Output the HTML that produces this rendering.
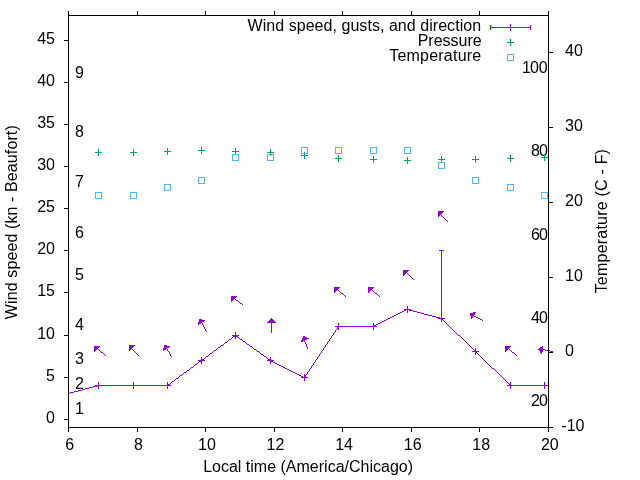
<!DOCTYPE html>
<html><head><meta charset="utf-8"><title>Wind speed, gusts, and direction</title>
<style>html,body{margin:0;padding:0;background:#fff}svg{display:block}</style></head>
<body>
<svg width="640" height="480" viewBox="0 0 640 480">
<rect width="640" height="480" fill="#fff"/>
<defs><clipPath id="pc"><rect x="68.5" y="15.5" width="480" height="412"/></clipPath></defs>
<g stroke="#000" stroke-width="1" fill="none">
<path d="M68.5 427.5V432.0M68.5 15.5V11.0"/>
<path d="M137.5 427.5V432.0M137.5 15.5V11.0"/>
<path d="M205.5 427.5V432.0M205.5 15.5V11.0"/>
<path d="M274.5 427.5V432.0M274.5 15.5V11.0"/>
<path d="M342.5 427.5V432.0M342.5 15.5V11.0"/>
<path d="M411.5 427.5V432.0M411.5 15.5V11.0"/>
<path d="M479.5 427.5V432.0M479.5 15.5V11.0"/>
<path d="M548.5 427.5V432.0M548.5 15.5V11.0"/>
<path d="M68.5 419.5H64.0"/>
<path d="M68.5 377.5H64.0"/>
<path d="M68.5 335.5H64.0"/>
<path d="M68.5 292.5H64.0"/>
<path d="M68.5 250.5H64.0"/>
<path d="M68.5 208.5H64.0"/>
<path d="M68.5 166.5H64.0"/>
<path d="M68.5 124.5H64.0"/>
<path d="M68.5 82.5H64.0"/>
<path d="M68.5 40.5H64.0"/>
<path d="M548.5 427.5H553.0"/>
<path d="M548.5 352.5H553.0"/>
<path d="M548.5 277.5H553.0"/>
<path d="M548.5 202.5H553.0"/>
<path d="M548.5 127.5H553.0"/>
<path d="M548.5 52.5H553.0"/>
</g>
<g font-family="'Liberation Sans', Arial, sans-serif" font-size="16" fill="#000">
<text x="69.8" y="450" text-anchor="middle">6</text>
<text x="138.4" y="450" text-anchor="middle">8</text>
<text x="206.9" y="450" text-anchor="middle">10</text>
<text x="275.5" y="450" text-anchor="middle">12</text>
<text x="344.1" y="450" text-anchor="middle">14</text>
<text x="412.7" y="450" text-anchor="middle">16</text>
<text x="481.2" y="450" text-anchor="middle">18</text>
<text x="549.8" y="450" text-anchor="middle">20</text>
<text x="55.0" y="422.7" text-anchor="end">0</text>
<text x="55.0" y="380.7" text-anchor="end">5</text>
<text x="55.0" y="338.7" text-anchor="end">10</text>
<text x="55.0" y="295.7" text-anchor="end">15</text>
<text x="55.0" y="253.7" text-anchor="end">20</text>
<text x="55.0" y="211.7" text-anchor="end">25</text>
<text x="55.0" y="169.7" text-anchor="end">30</text>
<text x="55.0" y="127.7" text-anchor="end">35</text>
<text x="55.0" y="85.7" text-anchor="end">40</text>
<text x="55.0" y="43.7" text-anchor="end">45</text>
<text x="561.3" y="430.8">-10</text>
<text x="565.0" y="355.8">0</text>
<text x="565.0" y="280.8">10</text>
<text x="565.0" y="205.8">20</text>
<text x="565.0" y="130.8">30</text>
<text x="565.0" y="55.8">40</text>
<text x="75" y="414">1</text>
<text x="75" y="389">2</text>
<text x="75" y="364">3</text>
<text x="75" y="330">4</text>
<text x="75" y="280">5</text>
<text x="75" y="238">6</text>
<text x="75" y="187">7</text>
<text x="75" y="137">8</text>
<text x="75" y="78">9</text>
<text x="531.0 539.0" y="406">20</text>
<text x="531.0 539.0" y="323">40</text>
<text x="531.0 539.0" y="240">60</text>
<text x="531.0 539.0" y="156">80</text>
<text x="522.1 530.1 538.65" y="73">100</text>
<text transform="translate(17 222.2) rotate(-90)" text-anchor="middle" textLength="193.9" lengthAdjust="spacing">Wind speed (kn - Beaufort)</text>
<text transform="translate(607 221.2) rotate(-90)" text-anchor="middle" textLength="144.3" lengthAdjust="spacing">Temperature (C - F)</text>
<text x="308.1" y="472" text-anchor="middle">Local time (America/Chicago)</text>
<text x="481.1" y="30.7" text-anchor="end" textLength="233.6" lengthAdjust="spacing">Wind speed, gusts, and direction</text>
<text x="481.7" y="45.7" text-anchor="end">Pressure</text>
<text x="481.2" y="60.7" text-anchor="end" textLength="92.0" lengthAdjust="spacing">Temperature</text>
</g>
<g stroke="#9400d3" stroke-width="1" fill="none"><path d="M490 27.5H531M490.5 25V30M530.5 25V30M510.5 24V31M507 27.5H514"/></g>
<path d="M507 42.5H514M510.5 39V46" stroke="#009e73" fill="none"/>
<rect x="507.5" y="54.5" width="6" height="6" stroke="#56b4e9" fill="none"/>
<path d="M439 250h5v1h-5zM441 251h1v1h-1zM441 252h1v1h-1zM441 253h1v1h-1zM441 254h1v1h-1zM441 255h1v1h-1zM441 256h1v1h-1zM441 257h1v1h-1zM441 258h1v1h-1zM441 259h1v1h-1zM441 260h1v1h-1zM441 261h1v1h-1zM441 262h1v1h-1zM441 263h1v1h-1zM441 264h1v1h-1zM441 265h1v1h-1zM441 266h1v1h-1zM441 267h1v1h-1zM441 268h1v1h-1zM441 269h1v1h-1zM441 270h1v1h-1zM441 271h1v1h-1zM441 272h1v1h-1zM441 273h1v1h-1zM441 274h1v1h-1zM441 275h1v1h-1zM441 276h1v1h-1zM441 277h1v1h-1zM441 278h1v1h-1zM441 279h1v1h-1zM441 280h1v1h-1zM441 281h1v1h-1zM441 282h1v1h-1zM441 283h1v1h-1zM441 284h1v1h-1zM441 285h1v1h-1zM441 286h1v1h-1zM441 287h1v1h-1zM441 288h1v1h-1zM441 289h1v1h-1zM441 290h1v1h-1zM441 291h1v1h-1zM441 292h1v1h-1zM441 293h1v1h-1zM441 294h1v1h-1zM441 295h1v1h-1zM441 296h1v1h-1zM441 297h1v1h-1zM441 298h1v1h-1zM441 299h1v1h-1zM441 300h1v1h-1zM441 301h1v1h-1zM441 302h1v1h-1zM441 303h1v1h-1zM441 304h1v1h-1zM441 305h1v1h-1zM441 306h1v1h-1zM441 307h1v1h-1zM441 308h1v1h-1zM406 309h3v1h-3zM441 309h1v1h-1zM404 310h2v1h-2zM409 310h4v1h-4zM441 310h1v1h-1zM402 311h2v1h-2zM413 311h4v1h-4zM441 311h1v1h-1zM400 312h2v1h-2zM417 312h4v1h-4zM441 312h1v1h-1zM398 313h2v1h-2zM421 313h3v1h-3zM441 313h1v1h-1zM396 314h2v1h-2zM424 314h4v1h-4zM441 314h1v1h-1zM394 315h2v1h-2zM428 315h4v1h-4zM441 315h1v1h-1zM392 316h2v1h-2zM432 316h4v1h-4zM441 316h1v1h-1zM390 317h2v1h-2zM436 317h4v1h-4zM441 317h1v1h-1zM388 318h2v1h-2zM440 318h2v1h-2zM386 319h2v1h-2zM442 319h1v1h-1zM384 320h2v1h-2zM443 320h1v1h-1zM382 321h2v1h-2zM444 321h1v1h-1zM380 322h2v1h-2zM445 322h1v1h-1zM378 323h2v1h-2zM446 323h1v1h-1zM376 324h2v1h-2zM447 324h1v1h-1zM374 325h2v1h-2zM448 325h1v1h-1zM338 326h36v1h-36zM449 326h1v1h-1zM337 327h1v1h-1zM450 327h1v1h-1zM337 328h1v1h-1zM451 328h1v1h-1zM336 329h1v1h-1zM452 329h1v1h-1zM335 330h1v1h-1zM453 330h1v1h-1zM335 331h1v1h-1zM454 331h1v1h-1zM334 332h1v1h-1zM455 332h1v1h-1zM333 333h1v1h-1zM456 333h1v1h-1zM333 334h1v1h-1zM457 334h1v1h-1zM235 335h1v1h-1zM332 335h1v1h-1zM458 335h2v1h-2zM233 336h2v1h-2zM236 336h2v1h-2zM331 336h1v1h-1zM460 336h1v1h-1zM232 337h1v1h-1zM238 337h1v1h-1zM331 337h1v1h-1zM461 337h1v1h-1zM231 338h1v1h-1zM239 338h1v1h-1zM330 338h1v1h-1zM462 338h1v1h-1zM229 339h2v1h-2zM240 339h2v1h-2zM329 339h1v1h-1zM463 339h1v1h-1zM228 340h1v1h-1zM242 340h1v1h-1zM329 340h1v1h-1zM464 340h1v1h-1zM227 341h1v1h-1zM243 341h2v1h-2zM328 341h1v1h-1zM465 341h1v1h-1zM225 342h2v1h-2zM245 342h1v1h-1zM327 342h1v1h-1zM466 342h1v1h-1zM224 343h1v1h-1zM246 343h1v1h-1zM327 343h1v1h-1zM467 343h1v1h-1zM223 344h1v1h-1zM247 344h2v1h-2zM326 344h1v1h-1zM468 344h1v1h-1zM221 345h2v1h-2zM249 345h1v1h-1zM325 345h1v1h-1zM469 345h1v1h-1zM220 346h1v1h-1zM250 346h2v1h-2zM325 346h1v1h-1zM470 346h1v1h-1zM218 347h2v1h-2zM252 347h1v1h-1zM324 347h1v1h-1zM471 347h1v1h-1zM217 348h1v1h-1zM253 348h1v1h-1zM323 348h1v1h-1zM472 348h1v1h-1zM216 349h1v1h-1zM254 349h2v1h-2zM323 349h1v1h-1zM473 349h1v1h-1zM214 350h2v1h-2zM256 350h1v1h-1zM322 350h1v1h-1zM474 350h1v1h-1zM213 351h1v1h-1zM257 351h2v1h-2zM321 351h1v1h-1zM475 351h1v1h-1zM212 352h1v1h-1zM259 352h1v1h-1zM321 352h1v1h-1zM476 352h1v1h-1zM210 353h2v1h-2zM260 353h1v1h-1zM320 353h1v1h-1zM477 353h1v1h-1zM209 354h1v1h-1zM261 354h2v1h-2zM319 354h1v1h-1zM478 354h1v1h-1zM208 355h1v1h-1zM263 355h1v1h-1zM319 355h1v1h-1zM479 355h1v1h-1zM206 356h2v1h-2zM264 356h2v1h-2zM318 356h1v1h-1zM480 356h1v1h-1zM205 357h1v1h-1zM266 357h1v1h-1zM317 357h1v1h-1zM481 357h1v1h-1zM204 358h1v1h-1zM267 358h1v1h-1zM317 358h1v1h-1zM482 358h1v1h-1zM202 359h2v1h-2zM268 359h2v1h-2zM316 359h1v1h-1zM483 359h1v1h-1zM201 360h1v1h-1zM270 360h1v1h-1zM315 360h1v1h-1zM484 360h1v1h-1zM199 361h2v1h-2zM271 361h2v1h-2zM315 361h1v1h-1zM485 361h1v1h-1zM198 362h1v1h-1zM273 362h2v1h-2zM314 362h1v1h-1zM486 362h1v1h-1zM197 363h1v1h-1zM275 363h2v1h-2zM313 363h1v1h-1zM487 363h1v1h-1zM195 364h2v1h-2zM277 364h2v1h-2zM313 364h1v1h-1zM488 364h1v1h-1zM194 365h1v1h-1zM279 365h2v1h-2zM312 365h1v1h-1zM489 365h1v1h-1zM193 366h1v1h-1zM281 366h2v1h-2zM311 366h1v1h-1zM490 366h1v1h-1zM191 367h2v1h-2zM283 367h2v1h-2zM311 367h1v1h-1zM491 367h1v1h-1zM190 368h1v1h-1zM285 368h2v1h-2zM310 368h1v1h-1zM492 368h2v1h-2zM189 369h1v1h-1zM287 369h2v1h-2zM309 369h1v1h-1zM494 369h1v1h-1zM187 370h2v1h-2zM289 370h2v1h-2zM309 370h1v1h-1zM495 370h1v1h-1zM186 371h1v1h-1zM291 371h2v1h-2zM308 371h1v1h-1zM496 371h1v1h-1zM184 372h2v1h-2zM293 372h2v1h-2zM307 372h1v1h-1zM497 372h1v1h-1zM183 373h1v1h-1zM295 373h2v1h-2zM307 373h1v1h-1zM498 373h1v1h-1zM182 374h1v1h-1zM297 374h2v1h-2zM306 374h1v1h-1zM499 374h1v1h-1zM180 375h2v1h-2zM299 375h2v1h-2zM305 375h1v1h-1zM500 375h1v1h-1zM179 376h1v1h-1zM301 376h2v1h-2zM305 376h1v1h-1zM501 376h1v1h-1zM178 377h1v1h-1zM303 377h2v1h-2zM502 377h1v1h-1zM176 378h2v1h-2zM503 378h1v1h-1zM175 379h1v1h-1zM504 379h1v1h-1zM174 380h1v1h-1zM505 380h1v1h-1zM172 381h2v1h-2zM506 381h1v1h-1zM171 382h1v1h-1zM507 382h1v1h-1zM170 383h1v1h-1zM508 383h1v1h-1zM168 384h2v1h-2zM509 384h1v1h-1zM97 385h71v1h-71zM510 385h39v1h-39zM93 386h4v1h-4zM89 387h4v1h-4zM85 388h4v1h-4zM82 389h3v1h-3zM78 390h4v1h-4zM74 391h4v1h-4zM70 392h4v1h-4zM68 393h2v1h-2z" fill="#9400d3" shape-rendering="crispEdges"/>
<g stroke="#9400d3" stroke-width="1" fill="none">
<path d="M95.00 385.50H102.00M98.50 382.00V389.00"/>
<path d="M130.00 385.50H137.00M133.50 382.00V389.00"/>
<path d="M164.00 385.50H171.00M167.50 382.00V389.00"/>
<path d="M198.00 360.50H205.00M201.50 357.00V364.00"/>
<path d="M232.00 335.50H239.00M235.50 332.00V339.00"/>
<path d="M267.00 360.50H274.00M270.50 357.00V364.00"/>
<path d="M301.00 377.50H308.00M304.50 374.00V381.00"/>
<path d="M335.00 326.50H342.00M338.50 323.00V330.00"/>
<path d="M370.00 326.50H377.00M373.50 323.00V330.00"/>
<path d="M404.00 309.50H411.00M407.50 306.00V313.00"/>
<path d="M438.00 318.50H445.00M441.50 315.00V322.00"/>
<path d="M472.00 351.50H479.00M475.50 348.00V355.00"/>
<path d="M507.00 385.50H514.00M510.50 382.00V389.00"/>
<path d="M541.00 385.50H548.00M544.50 382.00V389.00"/>
</g>
<g stroke="#009e73" stroke-width="1" fill="none" clip-path="url(#pc)">
<path d="M95.00 152.50H102.00M98.50 149.00V156.00"/>
<path d="M130.00 152.50H137.00M133.50 149.00V156.00"/>
<path d="M164.00 151.50H171.00M167.50 148.00V155.00"/>
<path d="M198.00 150.50H205.00M201.50 147.00V154.00"/>
<path d="M232.00 151.50H239.00M235.50 148.00V155.00"/>
<path d="M267.00 152.50H274.00M270.50 149.00V156.00"/>
<path d="M301.00 155.50H308.00M304.50 152.00V159.00"/>
<path d="M335.00 158.50H342.00M338.50 155.00V162.00"/>
<path d="M370.00 159.50H377.00M373.50 156.00V163.00"/>
<path d="M404.00 160.50H411.00M407.50 157.00V164.00"/>
<path d="M438.00 159.50H445.00M441.50 156.00V163.00"/>
<path d="M472.00 159.50H479.00M475.50 156.00V163.00"/>
<path d="M507.00 158.50H514.00M510.50 155.00V162.00"/>
<path d="M541.00 157.50H548.00M544.50 154.00V161.00"/>
</g>
<g stroke="#56b4e9" stroke-width="1" fill="none" clip-path="url(#pc)">
<rect x="95.50" y="192.50" width="6" height="6"/>
<rect x="130.50" y="192.50" width="6" height="6"/>
<rect x="164.50" y="184.50" width="6" height="6"/>
<rect x="198.50" y="177.50" width="6" height="6"/>
<rect x="232.50" y="154.50" width="6" height="6"/>
<rect x="267.50" y="154.50" width="6" height="6"/>
<rect x="301.50" y="147.50" width="6" height="6"/>
<rect x="335.50" y="147.50" width="6" height="6"/>
<rect x="370.50" y="147.50" width="6" height="6"/>
<rect x="404.50" y="147.50" width="6" height="6"/>
<rect x="438.50" y="162.50" width="6" height="6"/>
<rect x="472.50" y="177.50" width="6" height="6"/>
<rect x="507.50" y="184.50" width="6" height="6"/>
<rect x="541.50" y="192.50" width="6" height="6"/>
</g>
<path d="M438 211h6v1h-6zM438 212h5v1h-5zM438 213h4v1h-4zM438 214h3v1h-3zM438 215h2v1h-2zM441 215h1v1h-1zM438 216h1v1h-1zM442 216h1v1h-1zM443 217h1v1h-1zM444 218h1v1h-1zM445 219h1v1h-1zM446 220h1v1h-1zM447 221h1v1h-1zM403 270h6v1h-6zM403 271h5v1h-5zM403 272h4v1h-4zM403 273h3v1h-3zM407 273h1v1h-1zM403 274h2v1h-2zM408 274h1v1h-1zM403 275h1v1h-1zM409 275h1v1h-1zM410 276h1v1h-1zM411 277h1v1h-1zM412 278h1v1h-1zM413 279h1v1h-1zM334 287h6v1h-6zM368 287h6v1h-6zM334 288h5v1h-5zM368 288h5v1h-5zM334 289h4v1h-4zM368 289h4v1h-4zM334 290h3v1h-3zM338 290h1v1h-1zM368 290h3v1h-3zM372 290h1v1h-1zM334 291h2v1h-2zM339 291h1v1h-1zM368 291h2v1h-2zM373 291h1v1h-1zM334 292h1v1h-1zM340 292h1v1h-1zM368 292h1v1h-1zM374 292h1v1h-1zM341 293h2v1h-2zM375 293h2v1h-2zM343 294h1v1h-1zM377 294h1v1h-1zM344 295h1v1h-1zM378 295h1v1h-1zM231 296h6v1h-6zM345 296h1v1h-1zM379 296h1v1h-1zM231 297h5v1h-5zM231 298h4v1h-4zM231 299h3v1h-3zM235 299h1v1h-1zM231 300h2v1h-2zM236 300h2v1h-2zM231 301h1v1h-1zM238 301h1v1h-1zM239 302h1v1h-1zM240 303h2v1h-2zM242 304h1v1h-1zM473 312h3v1h-3zM470 313h5v1h-5zM470 314h5v1h-5zM470 315h4v1h-4zM471 316h2v1h-2zM474 316h2v1h-2zM471 317h2v1h-2zM476 317h2v1h-2zM271 318h1v1h-1zM471 318h1v1h-1zM478 318h2v1h-2zM199 319h3v1h-3zM270 319h3v1h-3zM480 319h2v1h-2zM199 320h6v1h-6zM269 320h5v1h-5zM482 320h1v1h-1zM199 321h5v1h-5zM268 321h7v1h-7zM198 322h4v1h-4zM267 322h9v1h-9zM198 323h3v1h-3zM202 323h1v1h-1zM271 323h1v1h-1zM198 324h1v1h-1zM202 324h1v1h-1zM271 324h1v1h-1zM203 325h1v1h-1zM271 325h1v1h-1zM203 326h1v1h-1zM271 326h1v1h-1zM204 327h1v1h-1zM271 327h1v1h-1zM204 328h1v1h-1zM271 328h1v1h-1zM205 329h1v1h-1zM271 329h1v1h-1zM205 330h1v1h-1zM271 330h1v1h-1zM206 331h1v1h-1zM271 331h1v1h-1zM271 332h1v1h-1zM303 336h2v1h-2zM303 337h4v1h-4zM302 338h7v1h-7zM302 339h5v1h-5zM301 340h4v1h-4zM301 341h2v1h-2zM304 341h1v1h-1zM305 342h1v1h-1zM305 343h1v1h-1zM306 344h1v1h-1zM129 345h6v1h-6zM164 345h3v1h-3zM306 345h1v1h-1zM94 346h6v1h-6zM129 346h5v1h-5zM164 346h6v1h-6zM306 346h1v1h-1zM505 346h6v1h-6zM542 346h1v1h-1zM94 347h5v1h-5zM129 347h4v1h-4zM164 347h5v1h-5zM307 347h1v1h-1zM505 347h5v1h-5zM540 347h3v1h-3zM94 348h4v1h-4zM129 348h3v1h-3zM163 348h4v1h-4zM307 348h1v1h-1zM505 348h4v1h-4zM539 348h4v1h-4zM94 349h3v1h-3zM98 349h1v1h-1zM129 349h2v1h-2zM132 349h1v1h-1zM163 349h3v1h-3zM167 349h1v1h-1zM505 349h3v1h-3zM509 349h1v1h-1zM538 349h7v1h-7zM94 350h2v1h-2zM99 350h1v1h-1zM129 350h1v1h-1zM133 350h1v1h-1zM163 350h1v1h-1zM167 350h1v1h-1zM505 350h2v1h-2zM510 350h1v1h-1zM539 350h4v1h-4zM545 350h5v1h-5zM94 351h1v1h-1zM100 351h1v1h-1zM134 351h1v1h-1zM168 351h1v1h-1zM505 351h1v1h-1zM511 351h1v1h-1zM540 351h3v1h-3zM550 351h3v1h-3zM101 352h2v1h-2zM135 352h1v1h-1zM169 352h1v1h-1zM512 352h2v1h-2zM540 352h2v1h-2zM103 353h1v1h-1zM136 353h1v1h-1zM169 353h1v1h-1zM514 353h1v1h-1zM541 353h1v1h-1zM104 354h1v1h-1zM137 354h1v1h-1zM170 354h1v1h-1zM515 354h1v1h-1zM105 355h1v1h-1zM138 355h1v1h-1zM170 355h1v1h-1zM516 355h1v1h-1zM171 356h1v1h-1z" fill="#9400d3" shape-rendering="crispEdges"/>
<rect x="68.5" y="15.5" width="480.0" height="412.0" fill="none" stroke="#000" stroke-width="1"/>
</svg>
</body></html>
